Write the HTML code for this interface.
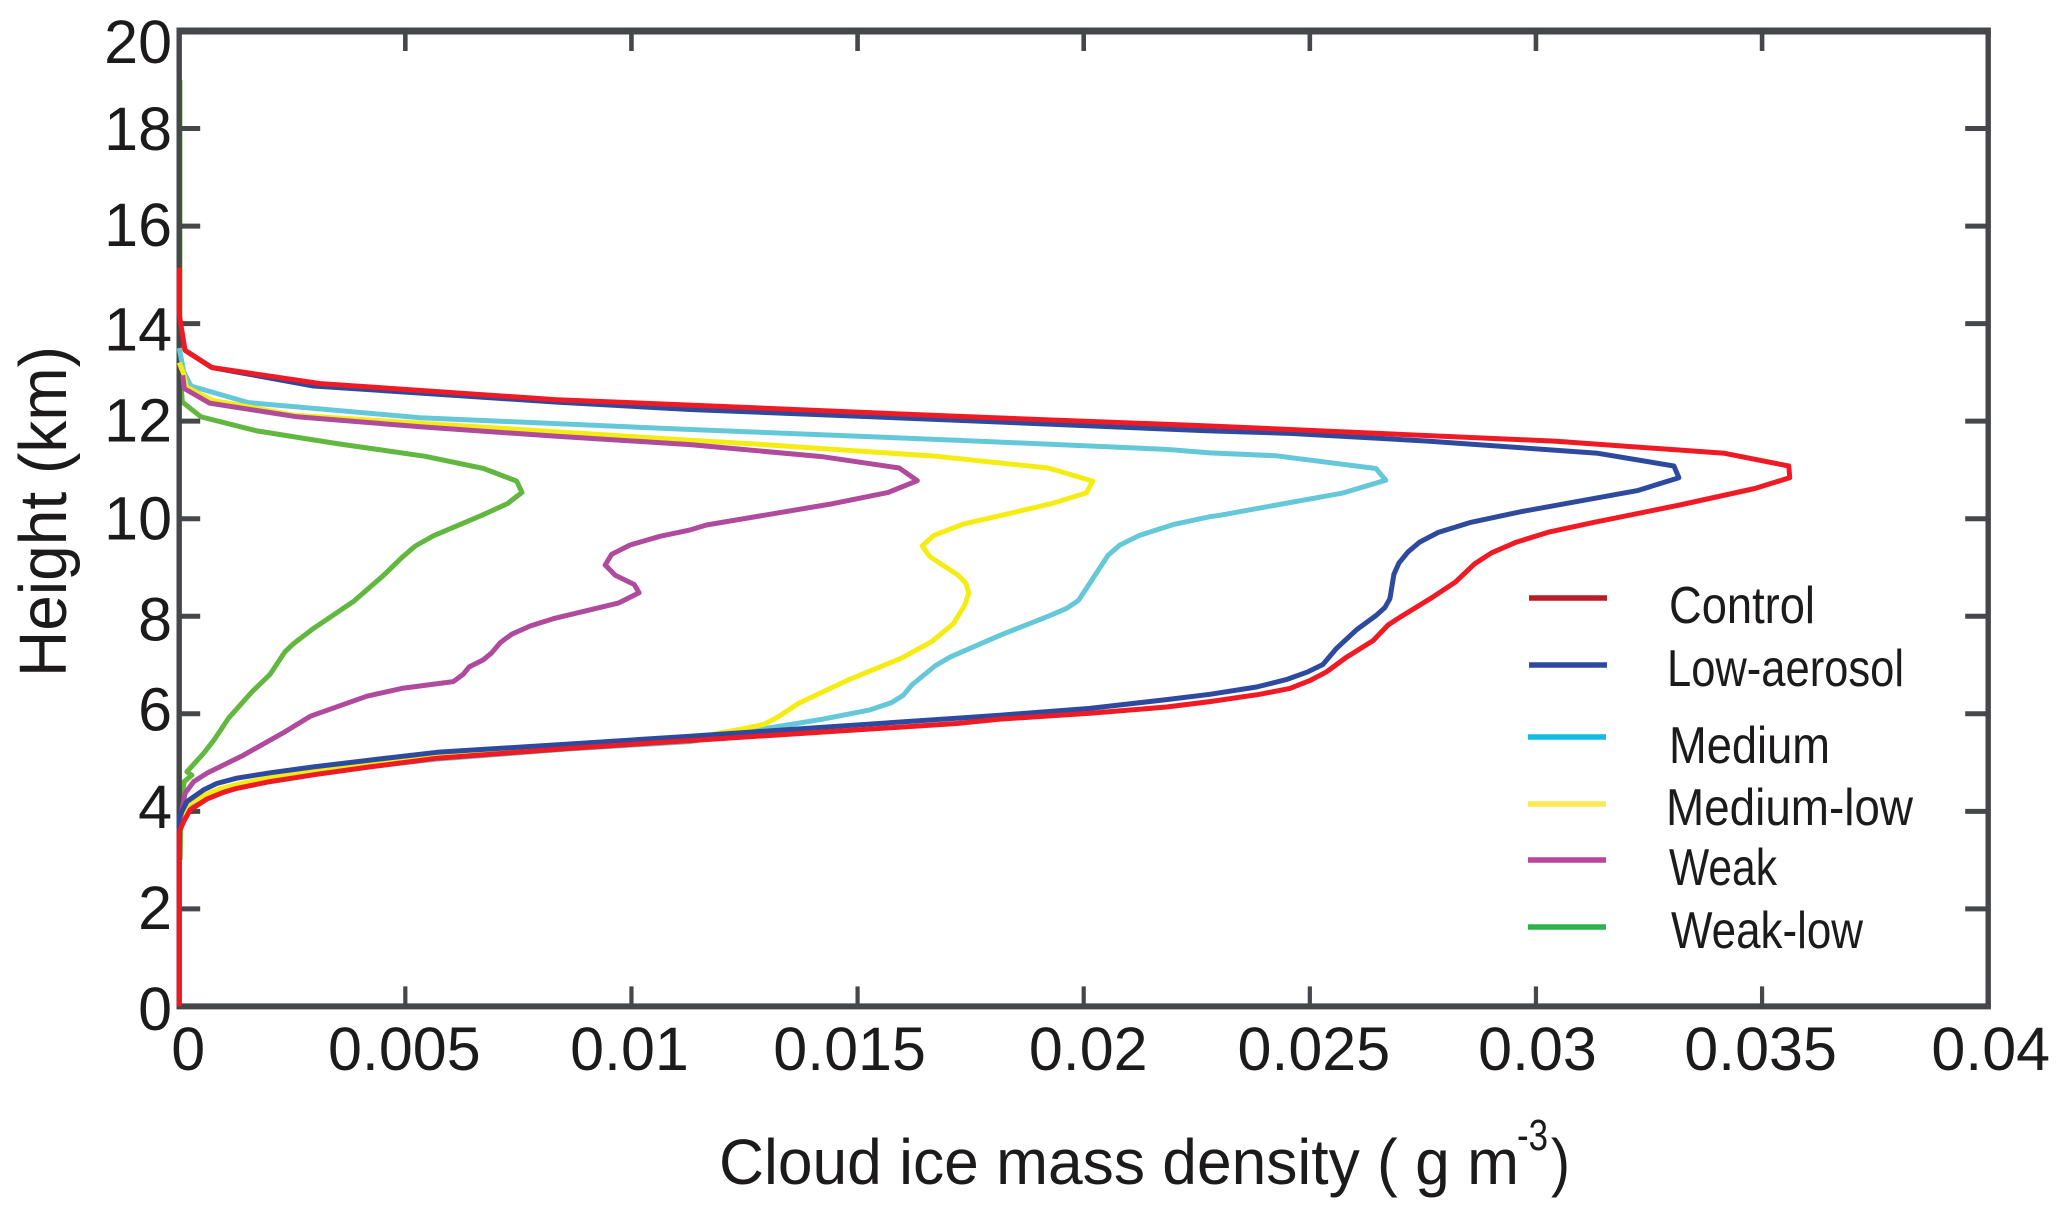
<!DOCTYPE html>
<html lang="en">
<head>
<meta charset="utf-8">
<title>Cloud ice mass density profile</title>
<style>
  html, body { margin: 0; padding: 0; background: #ffffff; }
  #chart { display: block; width: 2067px; height: 1218px; background: #ffffff; }
  text { font-family: "Liberation Sans", "DejaVu Sans", sans-serif; fill: #1c1a1b; }
</style>
</head>
<body>
<svg id="chart" xmlns="http://www.w3.org/2000/svg" width="2067" height="1218" viewBox="0 0 2067 1218">
  <g id="under-frame"></g>
  <g id="frame"></g>
  <g id="series"></g>
  <g id="tick-labels"></g>

  <text transform="translate(66,677) rotate(-90)" font-size="67" textLength="331" lengthAdjust="spacingAndGlyphs">Height (km)</text>
  <text x="719" y="1184" font-size="64" textLength="800" lengthAdjust="spacingAndGlyphs">Cloud ice mass density ( g m</text>
  <text x="1517" y="1150" font-size="44" textLength="31" lengthAdjust="spacingAndGlyphs">-3</text>
  <text x="1551" y="1184" font-size="64" textLength="19" lengthAdjust="spacingAndGlyphs">)</text>

  <g>
    <line x1="1529" x2="1607" y1="598" y2="598" stroke="#b81c24" stroke-width="5.5"/>
    <text x="1669" y="623" font-size="52" textLength="146" lengthAdjust="spacingAndGlyphs">Control</text>
    <line x1="1529" x2="1607" y1="665" y2="665" stroke="#2e4a9e" stroke-width="5.5"/>
    <text x="1667" y="686" font-size="52" textLength="237" lengthAdjust="spacingAndGlyphs">Low-aerosol</text>
    <line x1="1528" x2="1606" y1="737" y2="737" stroke="#12bbe4" stroke-width="5.5"/>
    <text x="1669" y="763" font-size="52" textLength="161" lengthAdjust="spacingAndGlyphs">Medium</text>
    <line x1="1528" x2="1606" y1="804" y2="804" stroke="#f9ec50" stroke-width="5.5"/>
    <text x="1666" y="825" font-size="52" textLength="247" lengthAdjust="spacingAndGlyphs">Medium-low</text>
    <line x1="1528" x2="1606" y1="860" y2="860" stroke="#bb459a" stroke-width="5.5"/>
    <text x="1669" y="885" font-size="52" textLength="108" lengthAdjust="spacingAndGlyphs">Weak</text>
    <line x1="1528" x2="1606" y1="927" y2="927" stroke="#2db24b" stroke-width="5.5"/>
    <text x="1671" y="948" font-size="52" textLength="192" lengthAdjust="spacingAndGlyphs">Weak-low</text>
  </g>
</svg>

<script>
const xTicks = [0, 0.005, 0.01, 0.015, 0.02, 0.025, 0.03, 0.035, 0.04];
const xTickLabels = ['0', '0.005', '0.01', '0.015', '0.02', '0.025', '0.03', '0.035', '0.04'];
const yTicks = [0, 2, 4, 6, 8, 10, 12, 14, 16, 18, 20];
const yTickLabels = ['0', '2', '4', '6', '8', '10', '12', '14', '16', '18', '20'];

const controlDensity = [0, 0, 0.00005, 0.00013, 0.00072, 0.00312, 0.00835, 0.0113, 0.01719, 0.02279, 0.02456, 0.03045, 0.03417, 0.03559, 0.03561, 0.03484, 0.03318, 0.03126, 0.0303, 0.02957, 0.02902, 0.02865, 0.02822, 0.02773, 0.02703, 0.02673, 0.0264, 0.02581, 0.02537, 0.025, 0.02456, 0.02389, 0.02279, 0.02183, 0.02014, 0.01815, 0.01719, 0.0113, 0.00864, 0.0057, 0.00422, 0.00304, 0.00201, 0.00127, 0.00098, 0.00061, 0.00024, 0.0001, 0, 0];
const controlHeight = [15.15, 14.2, 13.9, 13.45, 13.1, 12.77, 12.44, 12.33, 12.1, 11.9, 11.83, 11.59, 11.34, 11.08, 10.84, 10.62, 10.28, 9.92, 9.73, 9.52, 9.3, 9.08, 8.7, 8.4, 8, 7.82, 7.5, 7.16, 6.86, 6.68, 6.52, 6.4, 6.25, 6.14, 6.01, 5.89, 5.8, 5.45, 5.29, 5.09, 4.91, 4.76, 4.61, 4.47, 4.39, 4.25, 4.03, 3.79, 3.58, 0];

const lowAerosolDensity = [0.00013, 0.00072, 0.00297, 0.00835, 0.0113, 0.01719, 0.02279, 0.02456, 0.02765, 0.03137, 0.03305, 0.03316, 0.03226, 0.02964, 0.02854, 0.02784, 0.02743, 0.02717, 0.02697, 0.02686, 0.02677, 0.02666, 0.02647, 0.02603, 0.02559, 0.02529, 0.02496, 0.02448, 0.02382, 0.02279, 0.02183, 0.02014, 0.01815, 0.01719, 0.0113, 0.00864, 0.0057, 0.00422, 0.00297, 0.00201, 0.00127, 0.00083, 0.00054, 0.00017, 0, 0];
const lowAerosolHeight = [13.45, 13.1, 12.72, 12.39, 12.24, 12.02, 11.8, 11.75, 11.59, 11.34, 11.08, 10.84, 10.58, 10.14, 9.92, 9.72, 9.52, 9.32, 9.09, 8.86, 8.36, 8.18, 8.02, 7.72, 7.34, 7.01, 6.86, 6.7, 6.55, 6.4, 6.29, 6.11, 5.97, 5.91, 5.54, 5.38, 5.21, 5.05, 4.91, 4.79, 4.68, 4.57, 4.44, 4.2, 3.89, 3.6];

const mediumDensity = [0, 0.0001, 0.00026, 0.00153, 0.00533, 0.0113, 0.01719, 0.01815, 0.02183, 0.02279, 0.02426, 0.02646, 0.02668, 0.02574, 0.02301, 0.02279, 0.02198, 0.02124, 0.0208, 0.02054, 0.02006, 0.01988, 0.01962, 0.01922, 0.01815, 0.01704, 0.01671, 0.0162, 0.01601, 0.01575, 0.01527, 0.01424, 0.01299, 0.0113, 0.00864, 0.0057, 0.00422, 0.003, 0.00201, 0.00127, 0.0009, 0.0006, 0.00017, 0.00003, 0];
const mediumHeight = [13.5, 13.01, 12.72, 12.38, 12.07, 11.83, 11.61, 11.57, 11.42, 11.35, 11.29, 11.03, 10.79, 10.53, 10.07, 10.04, 9.88, 9.66, 9.46, 9.25, 8.57, 8.32, 8.16, 8, 7.61, 7.16, 6.98, 6.59, 6.38, 6.23, 6.08, 5.89, 5.7, 5.43, 5.28, 5.07, 4.92, 4.78, 4.64, 4.5, 4.41, 4.3, 4.09, 3.85, 3.6];

const mediumLowDensity = [0, 0.0001, 0.00016, 0.00072, 0.00256, 0.0113, 0.01277, 0.01675, 0.01922, 0.0202, 0.02006, 0.01929, 0.01734, 0.01669, 0.01643, 0.0166, 0.01723, 0.0174, 0.01746, 0.01737, 0.01712, 0.01664, 0.01597, 0.01476, 0.01369, 0.01325, 0.01292, 0.0124, 0.01203, 0.0113, 0.00864, 0.0057, 0.00422, 0.003, 0.00201, 0.00127, 0.0009, 0.0006, 0.0002, 0.00005, 0];
const mediumLowHeight = [13.2, 12.97, 12.7, 12.43, 12.12, 11.61, 11.53, 11.28, 11.04, 10.77, 10.53, 10.31, 9.89, 9.66, 9.44, 9.22, 8.84, 8.67, 8.47, 8.23, 7.85, 7.48, 7.14, 6.68, 6.21, 5.94, 5.78, 5.68, 5.62, 5.48, 5.31, 5.12, 4.96, 4.82, 4.69, 4.55, 4.46, 4.35, 4.15, 3.9, 3.6];

const weakDensity = [0.00008, 0.00011, 0.00067, 0.0026, 0.0054, 0.00835, 0.0113, 0.01424, 0.01592, 0.01632, 0.01568, 0.01446, 0.01166, 0.0113, 0.01063, 0.00997, 0.00956, 0.00942, 0.00964, 0.01006, 0.01017, 0.00971, 0.00827, 0.00776, 0.00735, 0.0071, 0.00691, 0.00673, 0.00641, 0.00628, 0.00606, 0.00492, 0.00415, 0.0029, 0.00234, 0.00142, 0.00061, 0.00032, 0.00013, 0.00006, 0];
const weakHeight = [12.94, 12.67, 12.37, 12.09, 11.88, 11.69, 11.52, 11.27, 11.04, 10.78, 10.54, 10.31, 9.87, 9.77, 9.64, 9.46, 9.27, 9.05, 8.84, 8.65, 8.48, 8.27, 7.95, 7.8, 7.63, 7.46, 7.25, 7.11, 6.96, 6.81, 6.66, 6.52, 6.36, 5.95, 5.63, 5.15, 4.78, 4.61, 4.37, 4.03, 3.7];

const weakLowDensity = [0.000015, 0.000015, 0.00007, 0.00048, 0.00172, 0.00349, 0.00544, 0.00673, 0.00746, 0.00758, 0.00726, 0.00669, 0.00562, 0.00522, 0.00492, 0.00452, 0.00385, 0.00297, 0.00253, 0.00234, 0.00201, 0.00161, 0.00109, 0.00076, 0.00054, 0.00017, 0.00028, 0.00011, 0.00007, 0.00004, 0.00002];
const weakLowHeight = [19, 13, 12.39, 12.09, 11.8, 11.54, 11.28, 11.03, 10.77, 10.54, 10.31, 10.07, 9.65, 9.44, 9.2, 8.84, 8.3, 7.75, 7.44, 7.27, 6.81, 6.45, 5.91, 5.45, 5.19, 4.81, 4.74, 4.61, 4.37, 4.03, 3];

const NS = 'http://www.w3.org/2000/svg';
const plotLeft = 179.2, plotRight = 1988.2, plotTop = 31, plotBottom = 1006.4;
const xDomainMax = 0.04, yDomainMax = 20;
const xLabelNudge = [9, -1, -2, -8, 4.5, 4, 1.5, -1.5, 2.5];
const yLabelNudge = [23.5, 20, 16.5, 16.6, 24.5, 20.7, 20.5, 27, 20, 21.7, 32];

function xScale(v) { return plotLeft + (v / xDomainMax) * (plotRight - plotLeft); }
function yScale(h) { return plotBottom - (h / yDomainMax) * (plotBottom - plotTop); }

function svgEl(tag, attrs) {
  const el = document.createElementNS(NS, tag);
  for (const key in attrs) el.setAttribute(key, attrs[key]);
  return el;
}

function drawSeries(parent, name, density, height, color, width) {
  const pts = density.map(function (v, i) { return xScale(v).toFixed(1) + ',' + yScale(height[i]).toFixed(1); }).join(' ');
  const line = svgEl('polyline', { points: pts, fill: 'none', stroke: color, 'stroke-width': width, 'stroke-linejoin': 'round', 'stroke-linecap': 'butt' });
  
  
  parent.appendChild(line);
}

const frameGroup = document.getElementById('frame');
const frameColor = '#45474a';

const spineTop = svgEl('line', { x1: plotLeft - 2.7, x2: plotRight + 2.7, y1: plotTop, y2: plotTop, stroke: frameColor, 'stroke-width': 7 });


frameGroup.appendChild(spineTop);

const spineBottom = svgEl('line', { x1: plotLeft - 2.7, x2: plotRight + 2.7, y1: plotBottom, y2: plotBottom, stroke: frameColor, 'stroke-width': 6 });


frameGroup.appendChild(spineBottom);

const spineLeft = svgEl('line', { x1: plotLeft, x2: plotLeft, y1: plotTop, y2: plotBottom, stroke: frameColor, 'stroke-width': 5.4 });


frameGroup.appendChild(spineLeft);

const spineRight = svgEl('line', { x1: plotRight, x2: plotRight, y1: plotTop, y2: plotBottom, stroke: frameColor, 'stroke-width': 5.4 });


frameGroup.appendChild(spineRight);

xTicks.forEach(function (t) {
  const x = xScale(t);
  const bottomTick = svgEl('line', { x1: x, x2: x, y1: plotBottom, y2: plotBottom - 20, stroke: frameColor, 'stroke-width': 4.2 });
  
  
  frameGroup.appendChild(bottomTick);
  const topTick = svgEl('line', { x1: x, x2: x, y1: plotTop, y2: plotTop + 20, stroke: frameColor, 'stroke-width': 4.6 });
  
  
  frameGroup.appendChild(topTick);
});

yTicks.forEach(function (t) {
  const y = yScale(t);
  const leftTick = svgEl('line', { x1: plotLeft - 2, x2: plotLeft + 21, y1: y, y2: y, stroke: frameColor, 'stroke-width': 5 });
  
  
  frameGroup.appendChild(leftTick);
  const rightTick = svgEl('line', { x1: plotRight - 23, x2: plotRight, y1: y, y2: y, stroke: frameColor, 'stroke-width': 5 });
  
  
  frameGroup.appendChild(rightTick);
});

const labelGroup = document.getElementById('tick-labels');
xTickLabels.forEach(function (label, i) {
  const text = svgEl('text', { x: xScale(xTicks[i]) + xLabelNudge[i], y: 1070, 'font-size': 61, 'text-anchor': 'middle' });
  
  
  text.textContent = label;
  labelGroup.appendChild(text);
});
yTickLabels.forEach(function (label, i) {
  const text = svgEl('text', { x: 172, y: yScale(yTicks[i]) + yLabelNudge[i], 'font-size': 61, 'text-anchor': 'end' });
  
  
  text.textContent = label;
  labelGroup.appendChild(text);
});

const underGroup = document.getElementById('under-frame');
const seriesGroup = document.getElementById('series');
drawSeries(underGroup, 'series-weak-low', weakLowDensity, weakLowHeight, '#62b83e', 5);
drawSeries(seriesGroup, 'series-medium', mediumDensity, mediumHeight, '#64c8d9', 5);
drawSeries(seriesGroup, 'series-medium-low', mediumLowDensity, mediumLowHeight, '#f5ec13', 5);
drawSeries(seriesGroup, 'series-weak', weakDensity, weakHeight, '#b04a9c', 5);
drawSeries(seriesGroup, 'series-low-aerosol', lowAerosolDensity, lowAerosolHeight, '#2e4a9e', 5);
drawSeries(seriesGroup, 'series-control', controlDensity, controlHeight, '#f01a24', 5);
</script>
</body>
</html>
